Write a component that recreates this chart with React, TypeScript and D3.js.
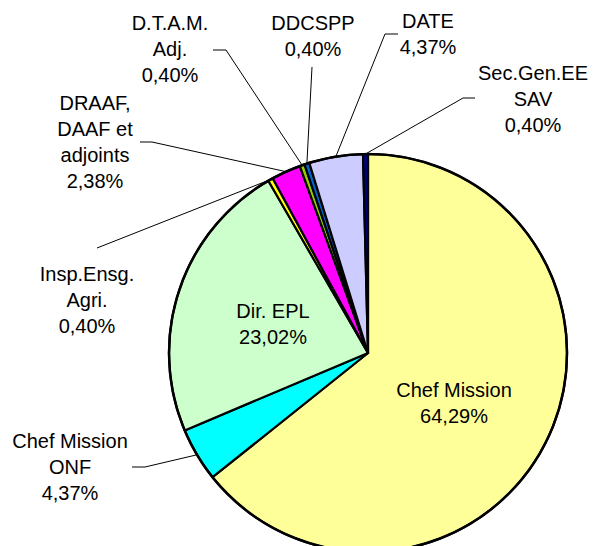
import React from 'react'
import * as d3 from 'd3'

// parts, in drawing order (clockwise from 12 o'clock)
const names = [
	['Chef Mission'],
	['Chef Mission', 'ONF'],
	['Dir. EPL'],
	['Insp.Ensg.', 'Agri.'],
	['DRAAF,', 'DAAF et', 'adjoints'],
	['D.T.A.M.', 'Adj.'],
	['DDCSPP'],
	['DATE'],
	['Sec.Gen.EE', 'SAV'],
]
const shares = [64.29, 4.37, 23.02, 0.40, 2.38, 0.40, 0.40, 4.37, 0.40]
const colors = ['#FFFF99', '#00FFFF', '#CCFFCC', '#FFFF00', '#FF00FF', '#99CC00', '#0066CC', '#CCCCFF', '#000080']

// label placement: centre x, first baseline, inside pie or not, leader start [x, y, knee x]
const labelPos = [
	{ x: 454, y: 397, inside: true },
	{ x: 70, y: 448, lead: [132, 467, 145] },
	{ x: 273, y: 318, inside: true },
	{ x: 87, y: 281, lead: [97, 248, 97] },
	{ x: 95, y: 110, lead: [140, 142, 152] },
	{ x: 170, y: 30, lead: [213, 50, 226] },
	{ x: 313, y: 30, lead: [312, 67, 312] },
	{ x: 428, y: 28, lead: [398, 34, 385] },
	{ x: 533, y: 80, lead: [475, 98, 463] },
]

const fmt = (v: number) => v.toFixed(2).replace('.', ',') + '%'

export default function App() {
	const width = 593
	const height = 546
	const cx = 368
	const cy = 353
	const r = 199
	const lh = 26

	const pie = d3.pie<number>().sort(null).value(d => d)
	const arcs = pie(shares)
	const arc = d3.arc<d3.PieArcDatum<number>>().innerRadius(0).outerRadius(r)

	return (
		<svg width={width} height={height} style={{ position: 'absolute', left: 0, top: 0 }}
			fontFamily="'Liberation Sans', Arial, sans-serif" fontSize={20}>
			<g transform={`translate(${cx},${cy})`}>
				{arcs.map((d, i) => (
					<path key={i} d={arc(d) as string} fill={colors[i]} stroke="#000" strokeWidth={2.2} strokeLinejoin="round" />
				))}
				<circle r={r} fill="none" stroke="#000" strokeWidth={2.5} />
			</g>
			{arcs.map((d, i) => {
				const p = labelPos[i]
				if (!p.lead) return null
				const mid = (d.startAngle + d.endAngle) / 2
				const ex = cx + r * Math.sin(mid)
				const ey = cy - r * Math.cos(mid)
				const [sx, sy, kx] = p.lead
				return (
					<polyline key={'l' + i} points={`${sx},${sy} ${kx},${sy} ${ex},${ey}`}
						fill="none" stroke="#000" strokeWidth={1} />
				)
			})}
			{arcs.map((d, i) => {
				const p = labelPos[i]
				const lines = [...names[i], fmt(shares[i])]
				return (
					<text key={'t' + i} x={p.x} y={p.y} textAnchor="middle" fill="#000">
						{lines.map((s, j) => (
							<tspan key={j} x={p.x} y={p.y + j * lh}>{s}</tspan>
						))}
					</text>
				)
			})}
		</svg>
	)
}
